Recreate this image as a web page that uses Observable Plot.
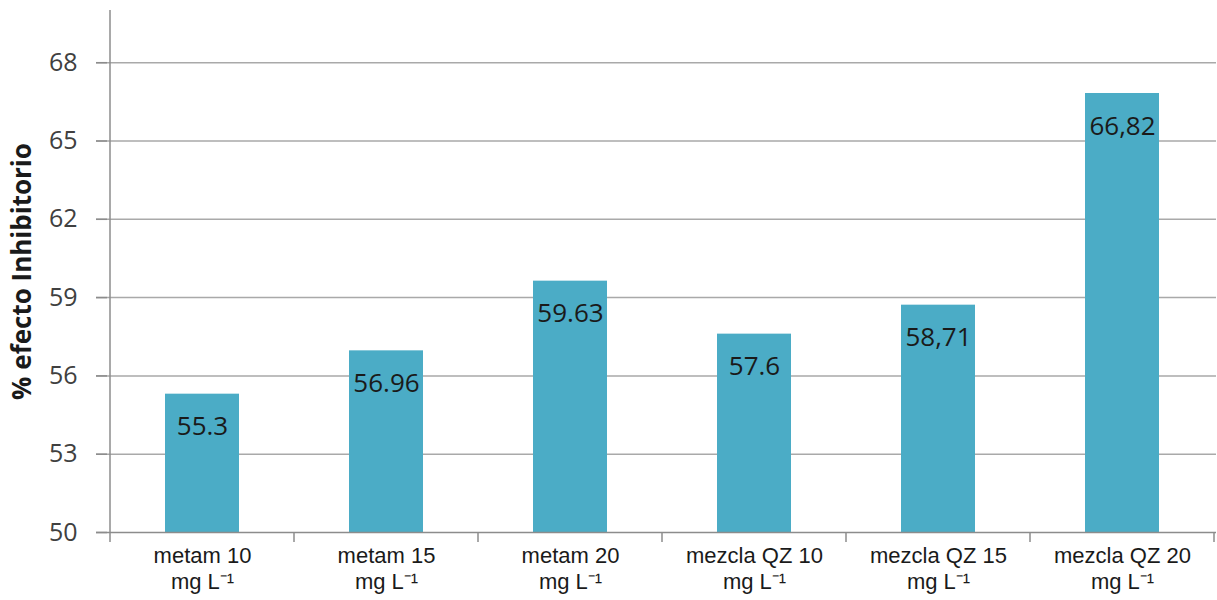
<!DOCTYPE html>
<html>
<head>
<meta charset="utf-8">
<script src="https://cdn.jsdelivr.net/npm/d3@7"></script>
<script src="https://cdn.jsdelivr.net/npm/@observablehq/plot@0.6"></script>
<style>
  html, body { margin: 0; padding: 0; background: #fff; }
  #chart svg { display: block; }
</style>
</head>
<body>
<div id="chart"></div>
<script>
// Inhibitory effect (%) by treatment
const treatments = ["metam 10", "metam 15", "metam 20", "mezcla QZ 10", "mezcla QZ 15", "mezcla QZ 20"];
const inhibition = [55.3, 56.96, 59.63, 57.6, 58.71, 66.82];
const valueLabels = ["55.3", "56.96", "59.63", "57.6", "58,71", "66,82"];
const unitLabel = "mg L⁻¹";
const yTicks = [50, 53, 56, 59, 62, 65, 68];
const yTitle = "% efecto Inhibitorio";

const rows = treatments.map((t, i) => ({treatment: t, value: inhibition[i], label: valueLabels[i]}));

const W = 1217, H = 600;
const margin = {top: 10, right: 1, bottom: 68, left: 107};
const barColor = "#4BACC6";
const gridColor = "#a9a9a9";
const axisColor = "#8c8c8c";

const chart = Plot.plot({
  width: W,
  height: H,
  marginTop: margin.top,
  marginRight: margin.right,
  marginBottom: margin.bottom,
  marginLeft: margin.left,
  style: {background: "#fff"},
  x: {type: "band", domain: treatments, padding: 0},
  y: {domain: [50, 70]},
  marks: [
    // horizontal gridlines, reaching into the tick marks
    Plot.ruleY(yTicks.filter(v => v > 50), {stroke: gridColor, strokeWidth: 1.5, insetLeft: -11}),
    Plot.barY(rows, {x: "treatment", y1: 50, y2: "value", fill: barColor, insetLeft: 55, insetRight: 55}),
    Plot.text(rows, {
      x: "treatment", y: "value", text: "label",
      dy: 33, fontSize: 26, fill: "#1a1a1a",
      fontFamily: "Open Sans", textAnchor: "middle", lineAnchor: "middle"
    }),
    Plot.axisY({
      ticks: yTicks, tickSize: 11, tickPadding: 19, label: null,
      fontSize: 25, fontFamily: "Open Sans", fill: "#404040", stroke: axisColor, strokeWidth: 1.5
    }),
    Plot.ruleY([50], {stroke: axisColor, strokeWidth: 1.5, insetLeft: -11}),
    Plot.axisX({
      tickSize: 0, tickPadding: 12, label: null,
      tickFormat: d => d + "\n" + unitLabel,
      fontSize: 22, fontFamily: "Liberation Sans", fill: "#1a1a1a",
      lineHeight: 1.18
    }),
    Plot.text([yTitle], {
      frameAnchor: "left", text: d => d, rotate: -90, dx: -85,
      textAnchor: "middle", lineAnchor: "middle",
      fontSize: 26, fontWeight: "bold", fontFamily: "Open Sans", fill: "#1a1a1a"
    })
  ]
});

// vertical axis line and category-separator ticks, placed with the chart's scales
const xs = chart.scale("x");
const ys = chart.scale("y");
const y0 = ys.apply(50);
const yTop = ys.apply(70);
const bounds = treatments.map(t => xs.apply(t)).concat([xs.apply(treatments[treatments.length - 1]) + xs.step]);
const g = d3.select(chart).append("g").attr("stroke", axisColor).attr("stroke-width", 1.5);
g.append("line")
  .attr("x1", bounds[0]).attr("x2", bounds[0])
  .attr("y1", yTop).attr("y2", y0);
g.selectAll("line.sep").data(bounds).join("line")
  .attr("class", "sep")
  .attr("x1", d => d).attr("x2", d => d)
  .attr("y1", y0).attr("y2", y0 + 10);

document.getElementById("chart").appendChild(chart);
</script>
</body>
</html>
